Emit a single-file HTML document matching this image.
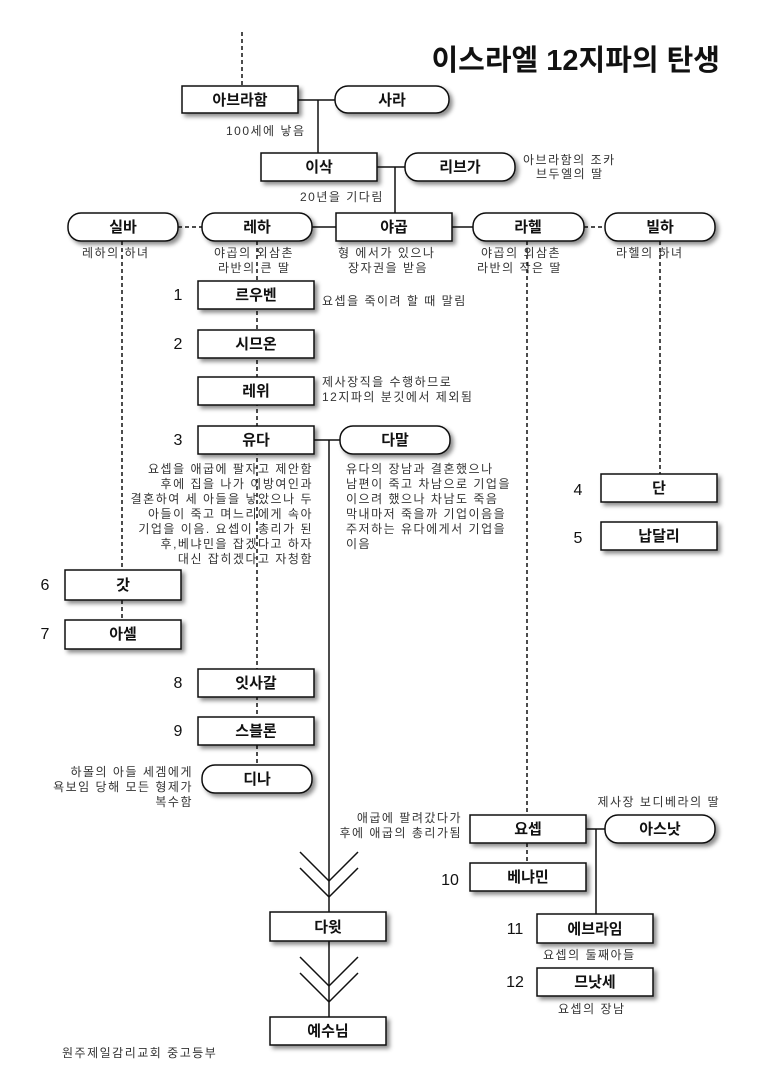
<!DOCTYPE html>
<html><head><meta charset="utf-8"><style>
html,body{margin:0;padding:0;background:#fff}
svg{display:block}
text{font-family:"Liberation Sans","Noto Sans CJK KR",sans-serif;fill:#111}
.b{font-size:15px;font-weight:bold;text-anchor:middle}
.n{font-size:16px;text-anchor:middle}
.s{font-size:12px;fill:#333;letter-spacing:1.5px}
</style></head><body>
<svg width="769" height="1088" viewBox="0 0 769 1088" xmlns="http://www.w3.org/2000/svg">
<defs>
<filter id="sh" x="-20%" y="-30%" width="150%" height="180%">
<feDropShadow dx="3" dy="3" stdDeviation="2" flood-color="#000" flood-opacity="0.45"/>
</filter>
</defs>
<g stroke="#111" stroke-width="1.5" fill="none">
<g stroke-dasharray="4,3">
<line x1="242" y1="32" x2="242" y2="86"/>
<line x1="178" y1="227" x2="202" y2="227"/>
<line x1="584" y1="227" x2="605" y2="227"/>
<line x1="122" y1="241" x2="122" y2="570"/>
<line x1="122" y1="600" x2="122" y2="620"/>
<line x1="257" y1="241" x2="257" y2="765"/>
<line x1="527" y1="241" x2="527" y2="815"/>
<line x1="527" y1="843" x2="527" y2="863"/>
<line x1="660" y1="241" x2="660" y2="474"/>
</g>
<line x1="298" y1="100" x2="335" y2="100"/>
<line x1="318" y1="100" x2="318" y2="153"/>
<line x1="377" y1="167" x2="405" y2="167"/>
<line x1="395" y1="167" x2="395" y2="213"/>
<line x1="312" y1="227" x2="336" y2="227"/>
<line x1="452" y1="227" x2="473" y2="227"/>
<line x1="314" y1="440" x2="340" y2="440"/>
<line x1="329" y1="440" x2="329" y2="1017"/>
<line x1="586" y1="829" x2="605" y2="829"/>
<line x1="596" y1="829" x2="596" y2="914"/>
<polyline points="300,852 329,881 358,852"/>
<polyline points="300,868 329,897 358,868"/>
<polyline points="300,957 329,986 358,957"/>
<polyline points="300,973 329,1002 358,973"/>
</g>
<g fill="#fff" stroke="#111" stroke-width="1.5" filter="url(#sh)">
<rect x="182" y="86" width="116" height="27"/>
<rect x="335" y="86" width="114" height="27" rx="13"/>
<rect x="261" y="153" width="116" height="28"/>
<rect x="405" y="153" width="110" height="28" rx="13"/>
<rect x="68" y="213" width="110" height="28" rx="13"/>
<rect x="202" y="213" width="110" height="28" rx="13"/>
<rect x="336" y="213" width="116" height="28"/>
<rect x="473" y="213" width="111" height="28" rx="13"/>
<rect x="605" y="213" width="110" height="28" rx="13"/>
<rect x="198" y="281" width="116" height="28"/>
<rect x="198" y="330" width="116" height="28"/>
<rect x="198" y="377" width="116" height="28"/>
<rect x="198" y="426" width="116" height="28"/>
<rect x="340" y="426" width="110" height="28" rx="13"/>
<rect x="601" y="474" width="116" height="28"/>
<rect x="601" y="522" width="116" height="28"/>
<rect x="65" y="570" width="116" height="30"/>
<rect x="65" y="620" width="116" height="29"/>
<rect x="198" y="669" width="116" height="28"/>
<rect x="198" y="717" width="116" height="28"/>
<rect x="202" y="765" width="110" height="28" rx="13"/>
<rect x="470" y="815" width="116" height="28"/>
<rect x="605" y="815" width="110" height="28" rx="13"/>
<rect x="470" y="863" width="116" height="28"/>
<rect x="537" y="914" width="116" height="29"/>
<rect x="537" y="968" width="116" height="28"/>
<rect x="270" y="912" width="116" height="29"/>
<rect x="270" y="1017" width="116" height="28"/>
</g>
<text x="720" y="70" style="font-size:29px;font-weight:bold;text-anchor:end">이스라엘 12지파의 탄생</text>
<text class="b" x="240" y="105">아브라함</text>
<text class="b" x="392" y="105">사라</text>
<text class="b" x="319" y="172">이삭</text>
<text class="b" x="460" y="172">리브가</text>
<text class="b" x="123" y="232">실바</text>
<text class="b" x="257" y="232">레하</text>
<text class="b" x="394" y="232">야곱</text>
<text class="b" x="528" y="232">라헬</text>
<text class="b" x="660" y="232">빌하</text>
<text class="b" x="256" y="300">르우벤</text>
<text class="b" x="256" y="349">시므온</text>
<text class="b" x="256" y="396">레위</text>
<text class="b" x="256" y="445">유다</text>
<text class="b" x="395" y="445">다말</text>
<text class="b" x="659" y="493">단</text>
<text class="b" x="659" y="541">납달리</text>
<text class="b" x="123" y="590">갓</text>
<text class="b" x="123" y="639">아셀</text>
<text class="b" x="256" y="688">잇사갈</text>
<text class="b" x="256" y="736">스블론</text>
<text class="b" x="257" y="784">디나</text>
<text class="b" x="528" y="834">요셉</text>
<text class="b" x="660" y="834">아스낫</text>
<text class="b" x="528" y="882">베냐민</text>
<text class="b" x="595" y="934">에브라임</text>
<text class="b" x="595" y="987">므낫세</text>
<text class="b" x="328" y="932">다윗</text>
<text class="b" x="328" y="1036">예수님</text>
<text class="n" x="178" y="300">1</text>
<text class="n" x="178" y="349">2</text>
<text class="n" x="178" y="445">3</text>
<text class="n" x="578" y="495">4</text>
<text class="n" x="578" y="543">5</text>
<text class="n" x="45" y="590">6</text>
<text class="n" x="45" y="639">7</text>
<text class="n" x="178" y="688">8</text>
<text class="n" x="178" y="736">9</text>
<text class="n" x="450" y="885">10</text>
<text class="n" x="515" y="934">11</text>
<text class="n" x="515" y="987">12</text>
<text class="s" x="226" y="135">100세에 낳음</text>
<text class="s" x="300" y="201">20년을 기다림</text>
<text class="s" x="523" y="164">아브라함의 조카</text>
<text class="s" x="536" y="178">브두엘의 딸</text>
<text class="s" x="82" y="257">레하의 하녀</text>
<text class="s" x="214" y="257">야곱의 외삼촌</text>
<text class="s" x="218" y="272">라반의 큰 딸</text>
<text class="s" x="338" y="257">형 에서가 있으나</text>
<text class="s" x="348" y="272">장자권을 받음</text>
<text class="s" x="481" y="257">야곱의 외삼촌</text>
<text class="s" x="477" y="272">라반의 작은 딸</text>
<text class="s" x="616" y="257">라헬의 하녀</text>
<text class="s" x="322" y="305">요셉을 죽이려 할 때 말림</text>
<text class="s" x="322" y="386">제사장직을 수행하므로</text>
<text class="s" x="322" y="401">12지파의 분깃에서 제외됨</text>
<text class="s" x="313" y="473" text-anchor="end">요셉을 애굽에 팔자고 제안함</text>
<text class="s" x="313" y="488" text-anchor="end">후에 집을 나가 이방여인과</text>
<text class="s" x="313" y="503" text-anchor="end">결혼하여 세 아들을 낳았으나 두</text>
<text class="s" x="313" y="518" text-anchor="end">아들이 죽고 며느리에게 속아</text>
<text class="s" x="313" y="533" text-anchor="end">기업을 이음. 요셉이 총리가 된</text>
<text class="s" x="313" y="548" text-anchor="end">후,베냐민을 잡겠다고 하자</text>
<text class="s" x="313" y="563" text-anchor="end">대신 잡히겠다고 자청함</text>
<text class="s" x="193" y="776" text-anchor="end">하몰의 아들 세겜에게</text>
<text class="s" x="193" y="791" text-anchor="end">욕보임 당해 모든 형제가</text>
<text class="s" x="193" y="806" text-anchor="end">복수함</text>
<text class="s" x="462" y="822" text-anchor="end">애굽에 팔려갔다가</text>
<text class="s" x="462" y="837" text-anchor="end">후에 애굽의 총리가됨</text>
<text class="s" x="720" y="806" text-anchor="end">제사장 보디베라의 딸</text>
<text class="s" x="346" y="473">유다의 장남과 결혼했으나</text>
<text class="s" x="346" y="488">남편이 죽고 차남으로 기업을</text>
<text class="s" x="346" y="503">이으려 했으나 차남도 죽음</text>
<text class="s" x="346" y="518">막내마저 죽을까 기업이음을</text>
<text class="s" x="346" y="533">주저하는 유다에게서 기업을</text>
<text class="s" x="346" y="548">이음</text>
<text class="s" x="543" y="959">요셉의 둘째아들</text>
<text class="s" x="558" y="1013">요셉의 장남</text>
<text class="s" x="62" y="1057">원주제일감리교회 중고등부</text>
</svg>
</body></html>
